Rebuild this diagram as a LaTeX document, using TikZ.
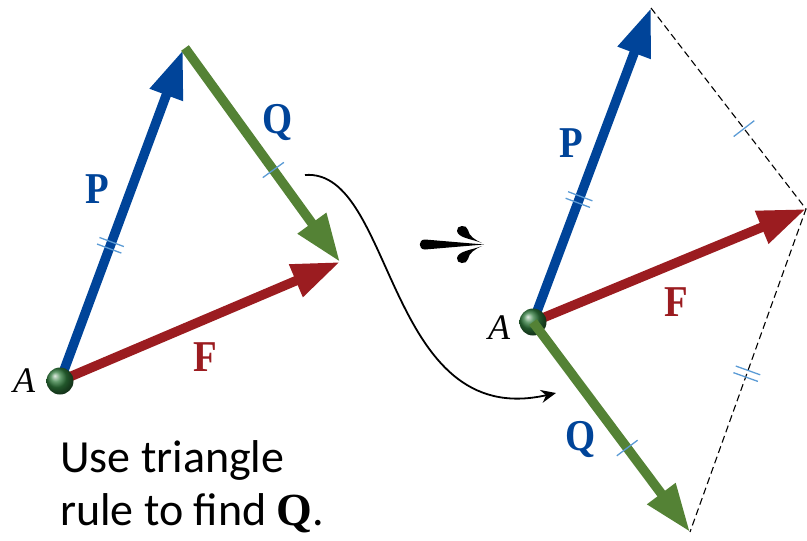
\documentclass[tikz,border=0pt]{standalone}
\usepackage{fontspec}
\setmainfont{Liberation Serif}
\newfontfamily\calib{Carlito}
\usetikzlibrary{arrows.meta,calc}
\definecolor{pblue}{HTML}{004499}
\definecolor{qgreen}{HTML}{548235}
\definecolor{fred}{HTML}{9B1C20}
\definecolor{tickblue}{HTML}{5B9BD5}
\definecolor{ballgreen}{HTML}{2F7A3C}
\tikzset{
 vec/.style={line width=9.5pt, -{Triangle[length=48pt,width=33pt]}},
 tickline/.style={draw=tickblue, line width=1.3pt},
 lbl/.style={font=\fontsize{44}{48}\selectfont\bfseries, inner sep=0, xscale=0.88},
 ptlbl/.style={font=\fontsize{36}{40}\selectfont\itshape, inner sep=0},
 ballnode/.style={circle, minimum size=27pt, inner sep=0, shading=ball, ball color=ballgreen},
 guide/.style={dash pattern=on 7pt off 4pt, line width=1.1pt},
}
\newcommand\singletick[3]{%
 \coordinate (tm) at ($(#1)!#3!(#2)$);
 \draw[tickline] ($(tm)!13pt!90:(#2)$) -- ($(tm)!13pt!-90:(#2)$);}
\newcommand\doubletick[3]{%
 \coordinate (tm) at ($(#1)!#3!(#2)$);
 \coordinate (tma) at ($(tm)!-3.5pt!(#2)$);
 \coordinate (tmb) at ($(tm)!3.5pt!(#2)$);
 \draw[tickline] ($(tma)!13pt!90:(#2)$) -- ($(tma)!13pt!-90:(#2)$);
 \draw[tickline] ($(tmb)!13pt!90:(#2)$) -- ($(tmb)!13pt!-90:(#2)$);}
\begin{document}
\begin{tikzpicture}[x=1pt,y=-1pt]
\useasboundingbox (0,0) rectangle (807,541);
% ---------- left triangle ----------
\coordinate (LA) at (60,381);
\coordinate (LP) at (183,50);
\coordinate (LQs) at (185,48);
\coordinate (LF) at (340,262);
\draw[vec, fred] (LA) -- (LF);
\draw[vec, pblue] (LA) -- (LP);
\draw[vec, qgreen] (LQs) -- (LF);
\node[ballnode] (lball) at (LA) {};
\doubletick{LA}{LP}{0.41}
\singletick{LQs}{LF}{0.57}
\node[lbl, text=pblue] (lPl) at (97,189) {P};
\node[lbl, text=pblue] (lQl) at (278,122) {Q};
\node[lbl, text=fred] (lFl) at (205,357) {F};
\node[ptlbl] (lAl) at (24,381) {A};
% ---------- right parallelogram ----------
\coordinate (RA) at (533,322);
\coordinate (RP) at (651,8);
\coordinate (RF) at (806,209);
\coordinate (RQ) at (690,532);
\draw[guide] (RP) -- (RF) -- (RQ);
\draw[vec, pblue] (RA) -- (RP);
\draw[vec, fred] (RA) -- (RF);
\node[ballnode] (rball) at (RA) {};
\draw[vec, qgreen] (RA) -- (RQ);
\doubletick{RA}{RP}{0.39}
\singletick{RA}{RQ}{0.6}
\singletick{RP}{RF}{0.6}
\doubletick{RF}{RQ}{0.51}
\node[lbl, text=pblue] (rPl) at (571,143) {P};
\node[lbl, text=fred] (rFl) at (676,302) {F};
\node[lbl, text=pblue] (rQl) at (581,439) {Q};
\node[ptlbl] (rAl) at (499,328) {A};
% ---------- curved connector ----------
\coordinate (cs) at (305,175);
\coordinate (ce) at (556,393);
\draw[line width=1.8pt, -{Stealth[length=15pt,width=13pt]}] (cs) .. controls (395,168) and (385,432) .. (ce);
% ---------- drafting arrow ----------
\fill (484,244.5) -- (425,239.5) .. controls (418,239.5) and (418,249.5) .. (425,249.5) -- cycle;
\fill (482,243) .. controls (472,239) and (458,238) .. (457,231) .. controls (456,225) and (467,224) .. (468,230) .. controls (469,236) and (475,240) .. (482,243) -- cycle;
\fill (482,246) .. controls (472,250) and (458,251) .. (457,258) .. controls (456,264) and (467,265) .. (468,259) .. controls (469,253) and (475,249) .. (482,246) -- cycle;
% ---------- caption ----------
\node[anchor=north west, align=left, inner sep=0, font=\calib\fontsize{46}{53}\selectfont] (cap) at (60,440) {Use triangle\\rule to find {\rmfamily\bfseries Q}.};
\end{tikzpicture}
\end{document}
